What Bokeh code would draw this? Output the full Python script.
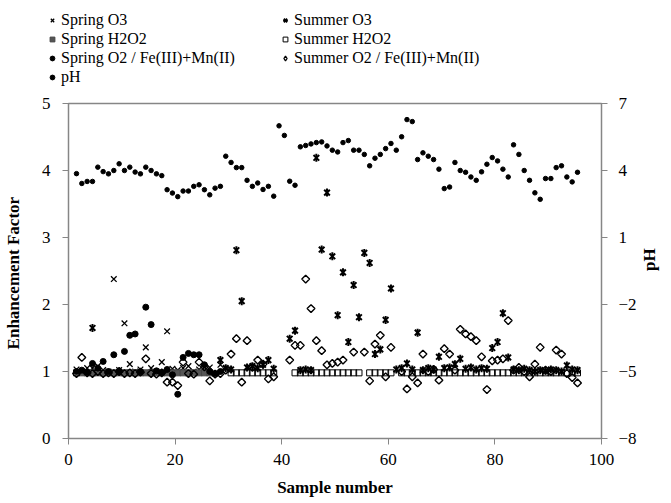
import numpy as np
from bokeh.plotting import figure
from bokeh.layouts import column
from bokeh.models import Range1d, LinearAxis, FixedTicker, Legend, LegendItem
from bokeh.embed import file_html
from bokeh.resources import INLINE

nan = float("nan")

# ---------------- data ----------------
sample = list(range(1, 96))
ph = [3.86, 3.42, 3.51, 3.51, 4.15, 3.95, 3.85, 4.00, 4.30, 4.00,
      4.15, 3.93, 3.85, 4.15, 4.00, 3.85, 3.77, 3.14, 2.99, 2.83,
      3.08, 3.08, 3.29, 3.36, 3.14, 2.91, 3.21, 3.29, 4.64, 4.36,
      4.13, 4.13, 3.56, 3.29, 3.44, 3.15, 3.29, 2.85, 6.00, 5.57,
      3.52, 3.34, 5.06, 5.12, 5.19, 5.25, 5.28, 5.10, 4.91, 4.83,
      5.25, 5.34, 4.91, 4.91, 4.72, 4.21, 4.55, 4.72, 4.98, 5.21,
      4.91, 5.51, 6.28, 6.19, 4.49, 4.79, 4.64, 4.49, 4.06, 3.19,
      3.26, 4.36, 4.00, 3.92, 3.71, 3.56, 3.94, 4.28, 4.58, 4.43,
      4.06, 3.71, 5.15, 4.72, 4.00, 3.56, 3.00, 2.71, 3.64, 3.64,
      4.13, 4.21, 3.71, 3.49, 3.92]

spring_o3_n = list(range(1, 29))
spring_o3 = [1.03, 1.00, 1.05, 1.05, 1.08, 1.02, 1.00, 2.38, 1.02, 1.72,
             1.11, 1.00, 1.03, 1.36, 1.05, 1.00, 1.14, 1.60, 1.04, 1.02,
             1.05, 1.08, 1.00, 1.03, 1.06, 1.06, 0.97, 1.10]

summer_o3_n = [4] + list(range(28, 39)) + list(range(41, 96))
summer_o3 = [1.65,
             1.17, 1.05, 1.03, 2.81, 2.05, 1.06, 1.08, 1.05, 1.10, 1.17, 1.04,
             1.49, 1.61, 1.02, 1.03, 1.02, 4.19, 2.82, 3.67, 2.72, 1.84,
             2.48, 1.44, 2.29, 1.81, 2.77, 2.62, 1.26, 1.33, 1.77, 2.24,
             1.03, 1.05, 1.12, 1.03, 1.58, 1.02, 1.05, 1.03, 1.22, 1.05,
             1.06, 1.11, 1.19, 1.04, 1.06, 1.03, 1.05, 1.04, 1.35, 1.44,
             1.87, 1.21, 1.03, 1.02, 1.04, 1.02, 1.00, 1.02, 1.01, 1.03,
             1.02, 1.00, 1.09, 1.03, 1.02]

spring_h2o2_n = list(range(2, 27))
spring_h2o2 = [0.98, 0.98, 0.98, 0.98, 0.98, 0.98, 0.98, 0.98, 0.98, 0.98,
               0.98, 0.98, 0.98, 0.98, 0.98, 0.98, 0.98, 0.98, 0.98, 0.98,
               0.98, 0.98, 0.98, 0.98, 0.98]

summer_h2o2_n = ([1] + list(range(30, 39)) + list(range(42, 55))
                 + list(range(56, 61)) + list(range(62, 96)))
summer_h2o2 = [0.98,
               0.98, 0.98, 0.98, 0.98, 0.98, 0.98, 0.98, 0.98, 0.98,
               0.98, 0.98, 0.98, 0.98, 0.98, 0.98, 0.98, 0.98, 0.98, 0.98,
               0.98, 0.98, 0.98,
               0.98, 0.98, 0.98, 0.98, 0.98,
               0.98, 0.98, 0.98, 0.98, 0.98, 0.98, 0.98, 0.98, 0.98, 0.98,
               0.98, 0.98, 0.98, 0.98, 0.98, 0.98, 0.98, 0.98, 0.98, 0.98,
               0.98, 0.98, 0.98, 0.98, 0.98, 0.98, 0.98, 0.98, 0.98, 0.98,
               0.98, 0.98, 0.98, 0.98]

spring_o2_n = list(range(1, 29))
spring_o2 = [1.00, 1.02, 0.99, 1.12, 1.05, 1.15, 1.00, 1.25, 1.00, 1.30,
             1.54, 1.56, 1.00, 1.96, 1.70, 1.01, 0.98, 1.03, 0.95, 0.66,
             1.21, 1.27, 1.25, 1.25, 1.10, 1.00, 0.97, 1.00]

summer_o2_n = list(range(1, 39)) + list(range(41, 96))
summer_o2 = [0.97, 1.21, 0.98, 0.97, 1.00, 0.97, 0.98, 0.97, 1.00, 0.97,
             0.98, 0.97, 0.99, 1.19, 0.97, 0.96, 0.98, 0.84, 0.84, 0.79,
             1.14, 0.97, 0.96, 1.14, 1.07, 0.86, 0.96, 0.97, 1.02, 1.26,
             1.49, 0.84, 1.46, 1.06, 1.17, 1.11, 0.89, 0.92,
             1.17, 1.39, 1.39, 2.38, 1.94, 1.46, 1.31, 1.10, 1.12, 1.14,
             1.17, nan, 1.29, nan, 1.29, 0.86, 1.41, 1.54, 0.92, 1.36,
             nan, 1.00, 0.74, 0.92, 0.83, 1.26, 1.00, 1.03, 0.87, 1.34,
             1.26, 1.02, 1.63, 1.56, 1.52, 1.46, 1.22, 0.73, 1.16, 1.17,
             1.19, 1.76, 1.02, 1.06, 1.00, 0.92, 1.11, 1.36, 1.02, 1.00,
             1.32, 1.26, 0.97, 0.91, 0.83]

x_ticks = [0, 20, 40, 60, 80, 100]
ef_ticks = [0, 1, 2, 3, 4, 5]
ph_ticks = [-8, -5, -2, 1, 4, 7]


def xpos(ns):
    # markers sit in the middle of each sample slot
    return [n + 0.5 for n in ns]


FONT = "Liberation Serif"
AX = "#868686"
W = 671
TOP_H = 95
LEFT = 67

# marker styles for the plot
STY = {
    "sp_o3": dict(marker="x", size=8, line_color="black", line_width=1.3),
    "su_o3a": dict(marker="x", size=8, line_color="black", line_width=2),
    "su_o3b": dict(marker="dash", size=8, angle=np.pi / 2, line_color="black", line_width=2),
    "sp_h": dict(marker="square", size=6, fill_color="#555555", line_color="#444444", line_width=1),
    "su_h": dict(marker="square", size=6, fill_color=None, line_color="black", line_width=1),
    "sp_o2": dict(marker="circle", size=6, fill_color="black", line_color="black"),
    "su_o2": dict(marker="square", size=5.5, angle=np.pi / 4, fill_color=None,
                  line_color="black", line_width=1.4),
    "ph": dict(marker="circle", size=4.5, fill_color="black", line_color="black"),
}
# legend proxies (legend glyphs ignore marker angles)
LSTY = dict(STY)
LSTY["su_o3a"] = dict(marker="x", size=7, line_color="black", line_width=2)
LSTY["su_o3b"] = dict(marker="dash", size=7, line_color="black", line_width=1)
LSTY["su_o2"] = dict(marker="diamond", size=9, fill_color=None, line_color="black", line_width=1.3)

# ---------------- main plot ----------------
p = figure(width=W, height=503 - TOP_H, output_backend="svg", toolbar_location=None,
           x_range=Range1d(0, 100), y_range=Range1d(0, 5),
           min_border_left=LEFT, min_border_right=67, min_border_top=103 - TOP_H,
           min_border_bottom=65)
p.extra_y_ranges = {"ph": Range1d(-8, 7)}
p.grid.visible = False
p.outline_line_color = AX
p.outline_line_width = 1.5
p.background_fill_color = "white"
p.border_fill_color = "white"

for ax in (p.xaxis[0], p.yaxis[0]):
    ax.axis_line_color = AX
    ax.major_tick_line_color = AX
    ax.major_tick_out = 6
    ax.major_tick_in = 0
    ax.minor_tick_line_color = None
    ax.major_label_text_font = FONT
    ax.major_label_text_font_size = "17px"
    ax.major_label_text_color = "black"
    ax.axis_label_text_font = FONT
    ax.axis_label_text_font_size = "17px"
    ax.axis_label_text_font_style = "bold"
    ax.axis_label_text_color = "black"

p.xaxis[0].ticker = FixedTicker(ticks=x_ticks)
p.yaxis[0].ticker = FixedTicker(ticks=ef_ticks)
p.xaxis[0].axis_label = "Sample number"
p.yaxis[0].axis_label = "Enhancement  Factor"
p.xaxis[0].major_label_standoff = 9
p.xaxis[0].axis_label_standoff = 10
p.yaxis[0].major_label_standoff = 12
p.yaxis[0].axis_label_standoff = 16

rax = LinearAxis(y_range_name="ph", ticker=FixedTicker(ticks=ph_ticks),
                 axis_label="pH", axis_label_orientation=np.pi / 2)
rax.axis_line_color = AX
rax.major_tick_line_color = AX
rax.major_tick_out = 6
rax.major_tick_in = 0
rax.minor_tick_line_color = None
rax.major_label_text_font = FONT
rax.major_label_text_font_size = "17px"
rax.major_label_text_color = "black"
rax.major_label_standoff = 11
rax.axis_label_text_font = FONT
rax.axis_label_text_font_size = "17px"
rax.axis_label_text_font_style = "bold"
rax.axis_label_text_color = "black"
rax.axis_label_standoff = 10
p.add_layout(rax, "right")

p.scatter(xpos(spring_o3_n), spring_o3, **STY["sp_o3"])
p.scatter(xpos(summer_o3_n), summer_o3, **STY["su_o3a"])
p.scatter(xpos(summer_o3_n), summer_o3, **STY["su_o3b"])
p.scatter(xpos(spring_h2o2_n), spring_h2o2, **STY["sp_h"])
p.scatter(xpos(summer_h2o2_n), summer_h2o2, **STY["su_h"])
p.scatter(xpos(spring_o2_n), spring_o2, **STY["sp_o2"])
p.scatter(xpos(summer_o2_n), summer_o2, **STY["su_o2"])
p.scatter(xpos(sample), ph, y_range_name="ph", **STY["ph"])

# ---------------- legend strip above the plot ----------------
lt = figure(width=W, height=TOP_H, output_backend="svg", toolbar_location=None,
            x_range=Range1d(0, 1), y_range=Range1d(0, 1),
            x_axis_type=None, y_axis_type=None, min_border=0)
lt.grid.visible = False
lt.outline_line_color = None
lt.background_fill_color = "white"
lt.border_fill_color = "white"
try:
    lt.frame_align = False
    off = 0
except (AttributeError, ValueError):
    off = LEFT

# proxy renderers (one point far outside the strip's view) for the legend glyphs
lr = {k: lt.scatter([-5], [-5], **v) for k, v in LSTY.items()}


def make_legend(items, loc):
    return Legend(items=items, location=loc, orientation="vertical",
                  label_text_font=FONT, label_text_font_size="16px",
                  label_text_color="black", label_standoff=3,
                  glyph_width=12, glyph_height=18, label_height=18,
                  spacing=1, padding=0, margin=0,
                  background_fill_alpha=0, border_line_alpha=0)


leg1 = make_legend([
    LegendItem(label="Spring O3", renderers=[lr["sp_o3"]]),
    LegendItem(label="Spring H2O2", renderers=[lr["sp_h"]]),
    LegendItem(label="Spring O2 / Fe(III)+Mn(II)", renderers=[lr["sp_o2"]]),
    LegendItem(label="pH", renderers=[lr["ph"]]),
], (46 - off, 9))
leg2 = make_legend([
    LegendItem(label="Summer O3", renderers=[lr["su_o3a"], lr["su_o3b"]]),
    LegendItem(label="Summer H2O2", renderers=[lr["su_h"]]),
    LegendItem(label="Summer O2 / Fe(III)+Mn(II)", renderers=[lr["su_o2"]]),
], (279 - off, 28))
lt.add_layout(leg1)
lt.add_layout(leg2)

page = column(lt, p, spacing=0)
open("out.html", "w").write(file_html(page, INLINE))
